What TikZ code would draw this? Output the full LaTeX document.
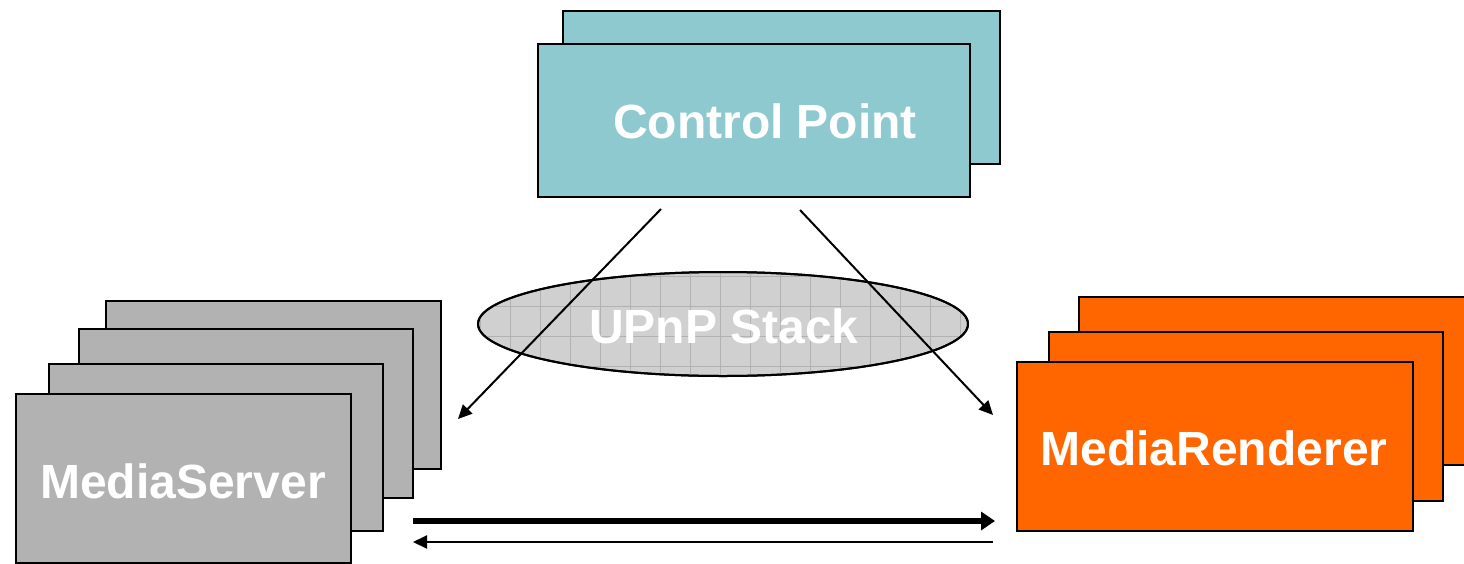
\documentclass[tikz,border=0pt]{standalone}
\usepackage{fontspec}
\setmainfont{Liberation Sans}
\usetikzlibrary{arrows.meta,shapes.geometric}
\definecolor{cpteal}{HTML}{8EC9CF}
\definecolor{msgray}{HTML}{B2B2B2}
\definecolor{mrorange}{HTML}{FF6600}
\definecolor{elgray}{HTML}{D0D0D0}
\tikzset{
  card/.style={draw=black, line width=2pt, rectangle, anchor=north west, inner sep=0pt},
  lbl/.style={text=white, font=\bfseries\fontsize{#1}{#1}\selectfont, inner sep=0pt},
  thinarrow/.style={line width=2pt, -{Triangle[length=14pt,width=13pt]}},
  thickarrow/.style={line width=5.5pt, -{Triangle[length=14pt,width=18pt]}},
}
\begin{document}
\begin{tikzpicture}[x=1pt,y=-1pt]
\useasboundingbox (0,0) rectangle (1464,563);
% Control Point stack
\node[card, fill=cpteal, minimum width=437pt, minimum height=153pt] (cpB) at (562,10) {};
\node[card, fill=cpteal, minimum width=432pt, minimum height=153pt] (cpA) at (537,43) {};
\node[lbl=48] (cpT) at (765,121) {Control Point};
% MediaServer stack
\node[card, fill=msgray, minimum width=335pt, minimum height=168pt] (ms4) at (105,300) {};
\node[card, fill=msgray, minimum width=334pt, minimum height=169pt] (ms3) at (78,328) {};
\node[card, fill=msgray, minimum width=334pt, minimum height=167pt] (ms2) at (48,363) {};
\node[card, fill=msgray, minimum width=335pt, minimum height=169pt] (ms1) at (15,393) {};
\node[lbl=48] (msT) at (183,481) {MediaServer};
% MediaRenderer stack
\node[card, fill=mrorange, minimum width=400pt, minimum height=168pt] (mr3) at (1078,296) {};
\node[card, fill=mrorange, minimum width=394pt, minimum height=169pt] (mr2) at (1048,331) {};
\node[card, fill=mrorange, minimum width=396pt, minimum height=169pt] (mr1) at (1016,361) {};
\node[lbl=48] (mrT) at (1214,448) {MediaRenderer};
% UPnP Stack ellipse
\node[ellipse, draw=black, line width=2pt, fill=elgray, minimum width=490pt, minimum height=104pt, inner sep=0pt] (up) at (723,324) {};
\begin{scope}
\clip (723,324) ellipse [x radius=244pt, y radius=51pt];
\foreach \gx in {480,510,...,970} {\draw[gray!60, line width=0.4pt] (\gx,270) -- (\gx,380);}
\foreach \gy in {276,306,...,376} {\draw[gray!60, line width=0.4pt] (475,\gy) -- (970,\gy);}
\end{scope}
\draw[black, line width=2pt] (723,324) ellipse [x radius=245pt, y radius=52pt];
\node[lbl=48] (upT) at (724,326) {UPnP Stack};
% connectors
\coordinate (cpL) at (661,209);
\coordinate (msIn) at (458,419);
\coordinate (cpR) at (800,210);
\coordinate (mrIn) at (993,415);
\draw[thinarrow] (cpL) -- (msIn);
\draw[thinarrow] (cpR) -- (mrIn);
\coordinate (dataS) at (413,521);
\coordinate (dataE) at (995,521);
\coordinate (backS) at (993,542);
\coordinate (backE) at (413,542);
\draw[thickarrow] (dataS) -- (dataE);
\draw[thinarrow] (backS) -- (backE);
\end{tikzpicture}
\end{document}
